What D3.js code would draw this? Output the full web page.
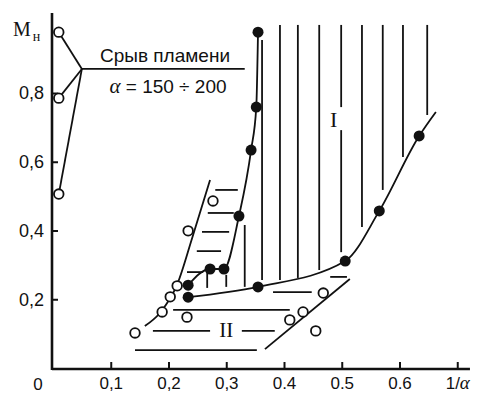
<!DOCTYPE html>
<html>
<head>
<meta charset="utf-8">
<script src="https://cdn.jsdelivr.net/npm/d3@7"></script>
<style>
  body { margin: 0; background: #fff; }
  svg { display: block; }
  .axis text { font-family: "Liberation Sans", Arial, sans-serif; font-size: 18px; fill: #111; }
  .axis.x text { font-size: 17px; }
  .axis line { stroke: #111; stroke-width: 2; }
</style>
</head>
<body>
<div id="chart"></div>
<script>
// axis ticks
var xTicks = [0.1, 0.2, 0.3, 0.4, 0.5, 0.6, 0.7];
var xTickLabels = ['0,1', '0,2', '0,3', '0.4', '0.5', '0.6', '1/α'];
var yTicks = [0.2, 0.4, 0.6, 0.8];
var yTickLabels = ['0,2', '0,4', '0,6', '0,8'];

// measured points [1/alpha, M]
var upperDots = [[0.234, 0.241], [0.272, 0.288], [0.296, 0.288], [0.322, 0.442], [0.343, 0.634], [0.352, 0.759], [0.355, 0.977]];
var lowerDots = [[0.234, 0.206], [0.355, 0.236], [0.506, 0.311], [0.565, 0.457], [0.634, 0.675]];
var lowerCurveEnd = [0.663, 0.745];
var openDots = [[0.142, 0.102], [0.189, 0.163], [0.203, 0.207], [0.215, 0.239], [0.232, 0.148],
                [0.234, 0.399], [0.277, 0.486], [0.410, 0.140], [0.433, 0.163], [0.468, 0.218], [0.455, 0.108]];
var blowoffDots = [[0.010, 0.977], [0.010, 0.785], [0.010, 0.506]];

// boundary lines
var leftBoundary = [[0.159, 0.122], [0.185, 0.160], [0.216, 0.247], [0.241, 0.378], [0.272, 0.547]];
var rightBoundary = [[0.367, 0.055], [0.514, 0.259]];
var calloutJoin = [0.050, 0.870];
var calloutEnd = [0.332, 0.870];

// hatching: vertical [x, yFrom, yTo], horizontal [y, xFrom, xTo]
var hatchI = [[0.267, 0.233, 0.279], [0.300, 0.236, 0.271], [0.332, 0.236, 0.416], [0.362, 0.256, 0.954],
              [0.393, 0.256, 0.998], [0.424, 0.262, 0.998], [0.461, 0.285, 0.998], [0.499, 0.337, 0.692],
              [0.499, 0.759, 0.998], [0.535, 0.410, 0.998], [0.571, 0.518, 0.998], [0.606, 0.614, 0.998],
              [0.648, 0.736, 0.998]];
var hatchII = [[0.265, 0.480, 0.509], [0.221, 0.381, 0.448], [0.169, 0.208, 0.410],
               [0.108, 0.173, 0.272], [0.108, 0.327, 0.384], [0.052, 0.142, 0.353]];
var hatchLeft = [[0.518, 0.281, 0.320], [0.451, 0.268, 0.313], [0.396, 0.258, 0.305],
                 [0.340, 0.249, 0.291], [0.279, 0.232, 0.260]];

var svg = d3.select('#chart').append('svg')
    .attr('width', 478)
    .attr('height', 394);

var x = d3.scaleLinear().domain([0, 0.7]).range([53, 457.25]);
var y = d3.scaleLinear().domain([0, 0.8]).range([368, 93]);

var ink = '#111';
var line = d3.line().x(function(d) { return x(d[0]); }).y(function(d) { return y(d[1]); });

// axes
var gx = svg.append('g')
    .attr('class', 'axis x')
    .attr('transform', 'translate(0,' + (y(0) + 1) + ')')
    .call(d3.axisBottom(x).tickValues(xTicks).tickSizeInner(-7).tickSizeOuter(0).tickPadding(8)
        .tickFormat(function(d, i) { return xTickLabels[i]; }));
gx.select('.domain').remove();
gx.selectAll('.tick text').filter(function(d) { return d === 0.7; })
    .text(null)
    .call(function(t) {
        t.append('tspan').text('1/');
        t.append('tspan').attr('font-family', '"Liberation Serif", serif').attr('font-style', 'italic')
            .attr('font-size', 19).text('α');
    });

var gy = svg.append('g')
    .attr('class', 'axis')
    .attr('transform', 'translate(' + (x(0) - 1) + ',0)')
    .call(d3.axisLeft(y).tickValues(yTicks).tickSizeInner(-6).tickSizeOuter(0).tickPadding(8)
        .tickFormat(function(d, i) { return yTickLabels[i]; }));
gy.select('.domain').remove();

svg.append('line')
    .attr('x1', x(0) - 1).attr('x2', x(0.722))
    .attr('y1', y(0) + 1).attr('y2', y(0) + 1)
    .attr('stroke', ink).attr('stroke-width', 2.6);
svg.append('line')
    .attr('x1', x(0) - 1).attr('x2', x(0) - 1)
    .attr('y1', y(0) + 2).attr('y2', y(1.033))
    .attr('stroke', ink).attr('stroke-width', 2.6);

svg.append('text')
    .attr('x', x(0) - 15).attr('y', y(0) + 22)
    .attr('text-anchor', 'middle')
    .style('font-family', '"Liberation Sans", Arial, sans-serif').style('font-size', '17px').attr('fill', ink)
    .text('0');

var mLabel = svg.append('text')
    .attr('x', 13).attr('y', 36)
    .style('font-family', '"Liberation Serif", serif').style('font-size', '20px').attr('fill', ink)
    .text('M');
mLabel.append('tspan').attr('dy', 5).attr('dx', 2).style('font-size', '14px').text('н');

// hatching
var marks = svg.append('g').attr('stroke', ink).attr('stroke-width', 1.8).attr('fill', 'none');

marks.selectAll('.vh').data(hatchI).enter().append('line')
    .attr('x1', function(d) { return x(d[0]); }).attr('x2', function(d) { return x(d[0]); })
    .attr('y1', function(d) { return y(d[1]); }).attr('y2', function(d) { return y(d[2]); });

marks.selectAll('.hh').data(hatchII.concat(hatchLeft)).enter().append('line')
    .attr('y1', function(d) { return y(d[0]); }).attr('y2', function(d) { return y(d[0]); })
    .attr('x1', function(d) { return x(d[1]); }).attr('x2', function(d) { return x(d[2]); });

// boundaries and curves
marks.append('path').attr('d', line.curve(d3.curveMonotoneX)(leftBoundary));
marks.append('path').attr('d', line.curve(d3.curveLinear)(rightBoundary));
marks.append('path').attr('d', line.curve(d3.curveMonotoneX)(upperDots));
marks.append('path').attr('d', line.curve(d3.curveMonotoneX)(lowerDots.concat([lowerCurveEnd])));

// flame blow-off callout
blowoffDots.forEach(function(d) {
    marks.append('path').attr('d', line.curve(d3.curveLinear)([d, calloutJoin]));
});
marks.append('path').attr('d', line.curve(d3.curveLinear)([calloutJoin, calloutEnd]));

// points
svg.selectAll('.open').data(openDots.concat(blowoffDots)).enter().append('circle')
    .attr('cx', function(d) { return x(d[0]); })
    .attr('cy', function(d) { return y(d[1]); })
    .attr('r', 4.8)
    .attr('fill', '#fff').attr('stroke', ink).attr('stroke-width', 1.8);

svg.selectAll('.solid').data(upperDots.concat(lowerDots)).enter().append('circle')
    .attr('cx', function(d) { return x(d[0]); })
    .attr('cy', function(d) { return y(d[1]); })
    .attr('r', 5.5)
    .attr('fill', ink);

// labels
svg.append('text')
    .attr('x', 165).attr('y', 62)
    .attr('text-anchor', 'middle')
    .style('font-family', '"Liberation Sans", Arial, sans-serif').style('font-size', '19px').attr('fill', ink)
    .text('Срыв пламени');

var alphaText = svg.append('text')
    .attr('x', 168).attr('y', 93)
    .attr('text-anchor', 'middle')
    .style('font-family', '"Liberation Sans", Arial, sans-serif').style('font-size', '19px').attr('fill', ink);
alphaText.append('tspan').style('font-family', '"Liberation Serif", serif').style('font-style', 'italic')
    .style('font-size', '21px').text('α');
alphaText.append('tspan').text(' = 150 ÷ 200');

svg.append('text')
    .attr('x', x(0.486)).attr('y', y(0.700))
    .attr('text-anchor', 'middle')
    .style('font-family', '"Liberation Serif", serif').style('font-size', '22px').attr('fill', ink)
    .text('I');

svg.append('text')
    .attr('x', x(0.300)).attr('y', y(0.090))
    .attr('text-anchor', 'middle')
    .style('font-family', '"Liberation Serif", serif').style('font-size', '21px').attr('fill', ink)
    .text('II');
</script>
</body>
</html>
